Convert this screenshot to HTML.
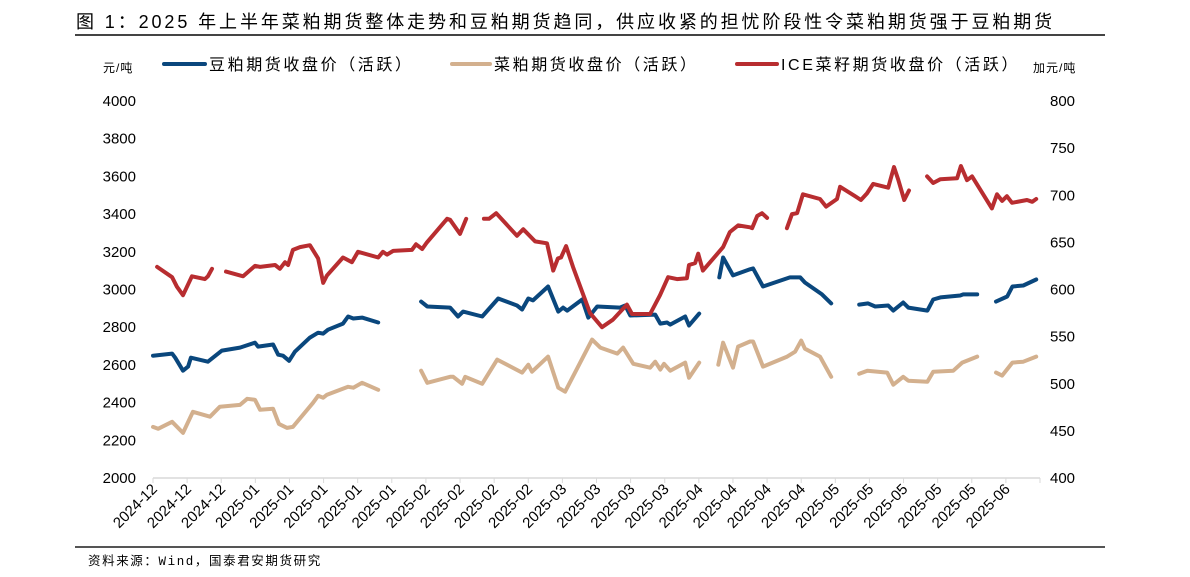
<!DOCTYPE html>
<html><head><meta charset="utf-8">
<style>
html,body{margin:0;padding:0;background:#fff;}
body{width:1190px;height:577px;overflow:hidden;position:relative;font-family:"Liberation Sans","Noto Sans CJK SC",sans-serif;}
.t{position:absolute;white-space:nowrap;color:#000;}
</style></head>
<body>
<div class="t" style="left:76px;top:8px;font-size:18px;letter-spacing:2.9px;">图 1：2025 年上半年菜粕期货整体走势和豆粕期货趋同，供应收紧的担忧阶段性令菜粕期货强于豆粕期货</div>
<div style="position:absolute;left:75px;top:34px;width:1030px;height:2px;background:#444;"></div>
<div style="position:absolute;left:75px;top:546px;width:1030px;height:2px;background:#555;"></div>
<div class="t" style="left:88px;top:550px;font-size:12.5px;letter-spacing:1.6px;font-family:'Liberation Mono','Noto Sans CJK SC',monospace;">资料来源：Wind，国泰君安期货研究</div>
<svg id="chart" width="1190" height="577" style="position:absolute;left:0;top:0;" xmlns="http://www.w3.org/2000/svg"></svg>
<script>
const categories=["2024-12","2024-12","2024-12","2025-01","2025-01","2025-01","2025-01","2025-01","2025-02","2025-02","2025-02","2025-02","2025-03","2025-03","2025-03","2025-03","2025-04","2025-04","2025-04","2025-04","2025-05","2025-05","2025-05","2025-05","2025-05","2025-06"];
const leftTicks=[2000,2200,2400,2600,2800,3000,3200,3400,3600,3800,4000];
const rightTicks=[400,450,500,550,600,650,700,750,800];
// x in category-period units, null = gap
const smT=[0,0.56,0.65,0.88,1.03,1.11,1.61,2.02,2.55,2.99,3.08,3.52,3.67,3.81,3.99,4.16,4.6,4.84,4.99,5.13,5.57,5.72,5.87,6.13,6.6,null,7.86,8.04,8.71,8.94,9.09,9.65,10.12,10.67,10.82,11.0,11.14,11.58,11.88,12.02,12.14,12.58,12.76,13.02,13.69,13.84,13.99,14.72,14.87,15.07,15.16,15.6,15.71,16.01,null,16.6,16.71,17.0,17.5,17.59,17.88,18.67,18.97,19.11,19.61,19.88,null,20.7,20.96,21.17,21.55,21.7,21.99,22.14,22.7,22.87,23.08,23.66,23.75,24.16,null,24.71,25.04,25.19,25.51,25.89];
const smV=[2649,2660,2638,2569,2591,2638,2617,2676,2692,2718,2697,2708,2654,2649,2622,2670,2745,2771,2766,2787,2819,2857,2846,2851,2825,null,2936,2910,2904,2857,2883,2857,2952,2915,2894,2952,2942,3016,2883,2904,2888,2947,2851,2910,2904,2915,2862,2867,2819,2825,2814,2857,2809,2872,null,3064,3170,3075,3107,3112,3016,3064,3064,3037,2974,2926,null,2920,2926,2910,2915,2888,2931,2904,2888,2947,2958,2968,2974,2974,null,2936,2963,3016,3021,3053];
const rmT=[0,0.15,0.56,0.88,1.17,1.67,1.96,2.55,2.76,2.99,3.14,3.52,3.69,3.93,4.1,4.69,4.84,4.99,5.1,5.72,5.87,6.13,6.6,null,7.86,8.04,8.71,8.8,9.06,9.15,9.65,10.09,10.82,11.0,11.11,11.58,11.88,12.08,12.87,13.11,13.61,13.78,14.08,14.57,14.72,14.87,14.98,15.16,15.6,15.71,16.01,null,16.57,16.71,17.0,17.15,17.5,17.59,17.88,18.59,18.82,19.0,19.11,19.55,19.88,null,20.7,20.94,21.52,21.7,21.99,22.14,22.7,22.87,23.46,23.72,24.16,null,24.71,24.89,25.19,25.51,25.89];
const rmV=[2271,2261,2298,2239,2351,2325,2378,2388,2420,2415,2362,2367,2287,2266,2271,2399,2436,2426,2442,2484,2479,2505,2468,null,2569,2505,2537,2537,2500,2537,2500,2628,2559,2601,2564,2644,2479,2458,2734,2692,2660,2692,2606,2585,2617,2575,2606,2569,2612,2532,2612,null,2601,2718,2585,2697,2724,2724,2591,2644,2670,2729,2686,2644,2537,null,2553,2569,2559,2495,2537,2516,2511,2564,2569,2612,2644,null,2559,2543,2612,2617,2644];
const iceT=[0.12,0.56,0.7,0.88,1.14,1.52,1.61,1.73,null,2.14,2.64,2.99,3.14,3.58,3.72,3.87,3.96,4.1,4.31,4.6,4.84,4.99,5.1,5.57,5.83,6.01,6.6,6.74,6.86,7.04,7.59,7.71,7.89,8.03,8.62,8.71,9.0,9.18,null,9.7,9.85,10.06,10.67,10.85,11.2,11.55,11.73,11.87,11.96,12.11,12.31,12.81,13.16,13.48,13.89,14.04,14.57,14.86,15.1,15.36,15.65,15.71,15.89,15.98,16.12,16.71,16.91,17.15,17.5,17.56,17.71,17.85,18.0,null,18.58,18.73,18.88,19.05,19.55,19.73,20.05,20.14,20.58,20.75,20.93,21.11,21.55,21.72,21.84,22.02,22.16,null,22.69,22.87,23.08,23.57,23.68,23.86,24.01,24.59,24.74,24.89,25.03,25.18,25.62,25.77,25.89];
const iceV=[624,613,603,594,614,611,614,622,null,619,614,625,624,626,622,629,626,642,645,647,633,607,615,634,629,640,634,640,637,641,642,648,643,650,675,674,659,675,null,675,675,681,657,664,651,649,620,633,634,646,624,575,560,568,584,574,574,594,613,611,612,626,628,638,620,645,661,668,666,665,678,681,676,null,665,680,681,701,696,688,696,709,699,695,702,712,708,730,717,695,705,null,720,713,717,718,731,716,720,686,701,694,699,692,695,693,696];

const svg=document.getElementById('chart');
const NS='http://www.w3.org/2000/svg';
const X0=153,X1=1040,Y0=478,Y1=101;
const xScale=t=>X0+t*(X1-X0)/categories.length;
const yL=v=>Y0-(v-2000)/(4000-2000)*(Y0-Y1);
const yR=v=>Y0-(v-400)/(800-400)*(Y0-Y1);
function mk(tag,attrs){const e=document.createElementNS(NS,tag);for(const k in attrs)e.setAttribute(k,attrs[k]);svg.appendChild(e);return e;}

let ax=mk('line',{x1:X0,y1:Y0,x2:X1,y2:Y0,stroke:'#d9d9d9','stroke-width':1.5});


for(let i=0;i<=categories.length;i++){
  const tk=mk('line',{x1:xScale(i),y1:Y0,x2:xScale(i),y2:Y0+5,stroke:'#d9d9d9','stroke-width':1});
  
  
}
categories.forEach((c,i)=>{
  const x=xScale(i)+5,y=490;
  const t=mk('text',{x:x,y:y,'text-anchor':'end','font-size':15,'font-family':'Liberation Sans, sans-serif',transform:`rotate(-45 ${x} ${y})`});
  t.textContent=c;
  
  
});
leftTicks.forEach(v=>{
  const t=mk('text',{x:136,y:yL(v)+5,'text-anchor':'end','font-size':15,'font-family':'Liberation Sans, sans-serif'});
  t.textContent=v;
  
  
});
rightTicks.forEach(v=>{
  const t=mk('text',{x:1050,y:yR(v)+5,'text-anchor':'start','font-size':15,'font-family':'Liberation Sans, sans-serif'});
  t.textContent=v;
  
  
});
function series(ts,vs,ys,color,name){
  let d='',pen=false;
  for(let i=0;i<ts.length;i++){
    if(ts[i]===null||vs[i]===null){pen=false;continue;}
    d+=(pen?'L':'M')+xScale(ts[i]).toFixed(1)+' '+ys(vs[i]).toFixed(1)+' ';pen=true;
  }
  const p=mk('path',{d:d,fill:'none',stroke:color,'stroke-width':4,'stroke-linejoin':'round','stroke-linecap':'round'});
  
  
}
series(rmT,rmV,yL,'#d3b08e','rapeseed-meal-line');
series(smT,smV,yL,'#0a477d','soybean-meal-line');
series(iceT,iceV,yR,'#b82d30','ice-canola-line');

function txt(x,y,s,size,name,ls){const t=mk('text',{x:x,y:y,'font-size':size,'font-family':'Liberation Sans, Noto Sans CJK SC, sans-serif','letter-spacing':ls||0});t.textContent=s;return t;}
txt(103,72,'元/吨',12,'left-axis-unit',1);
txt(1033,72,'加元/吨',12,'right-axis-unit',1);
const legend=[[164,205,209,'豆粕期货收盘价（活跃）','#0a477d','legend-soybean-meal'],[452,490,494,'菜粕期货收盘价（活跃）','#d3b08e','legend-rapeseed-meal'],[737,777,781,'ICE菜籽期货收盘价（活跃）','#b82d30','legend-ice-canola']];
legend.forEach(l=>{
  const ln=mk('line',{x1:l[0],y1:64,x2:l[1],y2:64,stroke:l[4],'stroke-width':4,'stroke-linecap':'round'});
  
  
  txt(l[2],70,l[3],16,l[5],2.6);
});
</script>
</body></html>
